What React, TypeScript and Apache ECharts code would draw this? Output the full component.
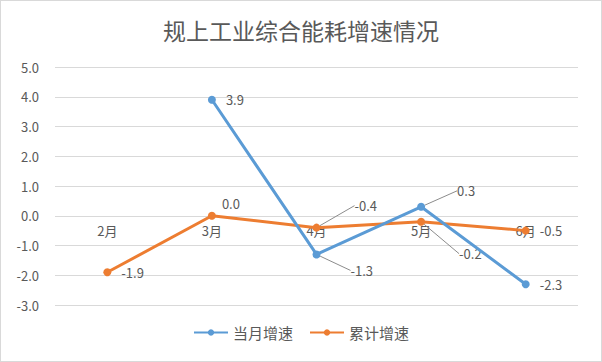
import React, { useEffect, useRef } from "react";
import * as echarts from "echarts";

const categories = ["2月", "3月", "4月", "5月", "6月"];
const monthlyGrowth = [null, 3.9, -1.3, 0.3, -2.3];
const cumulativeGrowth = [-1.9, 0.0, -0.4, -0.2, -0.5];
const seriesNames = ["当月增速", "累计增速"];
const yTicks = { min: -3, max: 5, interval: 1 };

// label displacement per point (dx, dy) in pixels; non-zero => leader line
const monthlyLabelShift: [number, number][] = [
  [0, 0], [0, 0], [20, 16], [22, -16], [0, 0],
];
const cumulativeLabelShift: [number, number][] = [
  [0, 0], [-4, -12], [24, -22], [24, 32], [0, 0],
];
const monthlyLeader = [false, false, true, true, false];
const cumulativeLeader = [false, false, true, true, false];

const TXT = "#595959";
const FONT = "Microsoft YaHei, Noto Sans CJK SC, sans-serif";

export default function App() {
  const ref = useRef<HTMLDivElement>(null);
  useEffect(() => {
    document.body.style.margin = "0";
    const chart = echarts.init(ref.current!, null, { renderer: "svg" });
    const labelBase = {
      show: true,
      position: "right" as const,
      distance: 10,
      color: TXT,
      fontSize: 13,
      fontFamily: FONT,
      formatter: (p: any) => Number(p.value).toFixed(1),
    };
    const mkLayout = (shift: [number, number][]) => (p: any) => {
      const [dx, dy] = shift[p.dataIndex] || [0, 0];
      return { dx, dy };
    };
    const mkData = (vals: (number | null)[], leader: boolean[]) =>
      vals.map((v, i) => ({
        value: v,
        labelLine: {
          show: leader[i],
          lineStyle: { color: "#8c8c8c", width: 1 },
        },
      }));
    chart.setOption({
      animation: false,
      backgroundColor: "#fff",
      title: {
        text: "规上工业综合能耗增速情况",
        left: "center",
        top: 12,
        textStyle: {
          color: TXT,
          fontSize: 23,
          fontWeight: "normal",
          fontFamily: FONT,
        },
      },
      legend: {
        bottom: 16,
        left: "center",
        itemWidth: 34,
        itemHeight: 8,
        itemGap: 16,
        textStyle: { color: TXT, fontSize: 15, fontFamily: FONT },
        data: seriesNames,
      },
      grid: { left: 54, right: 23, top: 66, bottom: 56 },
      xAxis: {
        type: "category",
        data: categories,
        boundaryGap: true,
        offset: -90,
        axisLine: { show: false, onZero: false },
        axisTick: { show: false },
        axisLabel: { color: TXT, fontSize: 13, margin: 9, fontFamily: FONT },
      },
      yAxis: {
        type: "value",
        min: yTicks.min,
        max: yTicks.max,
        interval: yTicks.interval,
        axisLine: { show: false },
        axisTick: { show: false },
        splitLine: { lineStyle: { color: "#d9d9d9" } },
        axisLabel: {
          color: TXT,
          fontSize: 13,
          margin: 16,
          fontFamily: FONT,
          formatter: (v: number) => v.toFixed(1),
        },
      },
      series: [
        {
          name: seriesNames[0],
          type: "line",
          data: mkData(monthlyGrowth, monthlyLeader),
          connectNulls: false,
          symbol: "circle",
          symbolSize: 8,
          itemStyle: { color: "#5B9BD5" },
          lineStyle: { color: "#5B9BD5", width: 3 },
          label: labelBase,
          labelLayout: mkLayout(monthlyLabelShift),
          z: 3,
        },
        {
          name: seriesNames[1],
          type: "line",
          data: mkData(cumulativeGrowth, cumulativeLeader),
          symbol: "circle",
          symbolSize: 8,
          itemStyle: { color: "#ED7D31" },
          lineStyle: { color: "#ED7D31", width: 3 },
          label: labelBase,
          labelLayout: mkLayout(cumulativeLabelShift),
          z: 2,
        },
      ],
    });
    return () => chart.dispose();
  }, []);
  return (
    <div
      ref={ref}
      style={{
        position: "absolute",
        left: 0,
        top: 0,
        width: 602,
        height: 362,
        boxSizing: "border-box",
        border: "1px solid #d9d9d9",
      }}
    />
  );
}
